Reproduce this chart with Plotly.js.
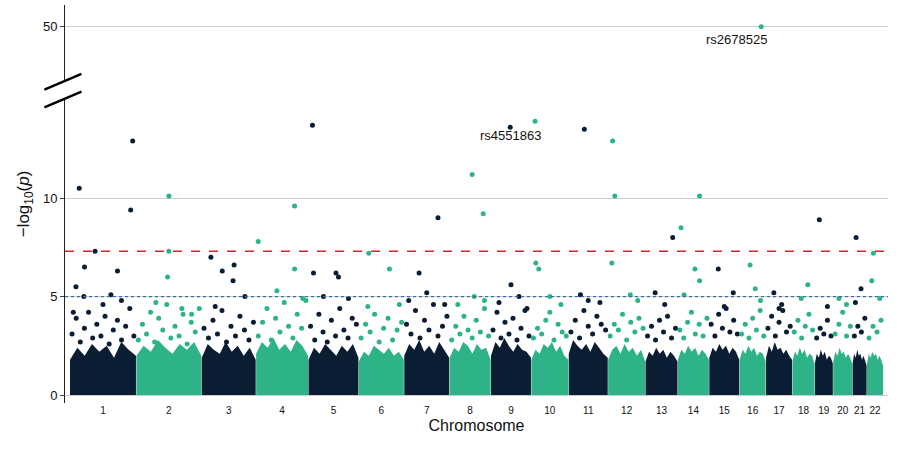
<!DOCTYPE html>
<html><head><meta charset="utf-8">
<script src="https://cdn.plot.ly/plotly-3.0.1.min.js"></script>
<style>body{margin:0}#myDiv{width:900px;height:450px}</style>
</head><body><div id="myDiv"></div>
<script>
// chromosome widths on the plot (relative genomic span)
var chromLen = [66,65,54,52,50,45,45,41,40,37,39,37,32,31,30,26,26,22,18,19,14,16];
var chromNames = ['1','2','3','4','5','6','7','8','9','10','11','12','13','14','15','16','17','18','19','20','21','22'];

// top of the solid lower cloud along each chromosome
var cloudTop = [
  [1.8,2.4,2.0,2.6,2.2,2.5,1.9,2.7,2.3,2.0],[2.0,2.5,2.2,2.8,2.4,2.1,2.6,2.3,2.7,2.0],
  [1.9,2.6,2.3,2.1,2.7,2.2,2.5,2.0,2.4,1.8],[2.1,2.7,2.4,2.9,2.3,2.6,2.2,2.8,2.5,2.0],
  [1.8,2.4,2.1,2.6,2.3,2.0,2.5,2.2,2.6,1.9],[1.7,2.2,2.0,2.5,2.3,2.1,2.4,2.0,2.2,1.8],
  [2.0,2.6,2.3,2.8,2.2,2.5,2.1,2.7,2.3,1.9],[1.9,2.4,2.2,2.7,2.5,2.1,2.6,2.3,2.4,1.8],
  [2.0,2.7,2.4,2.9,2.5,2.2,2.6,2.3,2.2,1.9],[1.8,2.3,2.1,2.6,2.4,2.7,2.2,2.5,2.0,1.8],
  [2.1,2.8,2.5,2.3,2.6,2.2,2.7,2.4,2.1,1.9],[1.8,2.3,2.5,2.1,2.6,2.2,2.4,2.0,2.3,1.7],
  [1.7,2.2,2.0,2.4,2.1,2.3,1.9,2.2,2.0,1.7],[1.8,2.3,2.1,2.5,2.2,2.4,2.0,2.3,2.1,1.8],
  [1.9,2.4,2.2,2.6,2.3,2.5,2.1,2.4,2.2,1.8],[1.8,2.3,2.1,2.5,2.2,2.4,2.0,2.2,2.1,1.7],
  [1.9,2.5,2.2,2.7,2.3,2.4,2.1,2.3,2.0,1.8],[1.7,2.2,2.0,2.4,2.1,2.3,1.9,2.1,2.0,1.6],
  [1.6,2.1,1.9,2.3,2.0,2.2,1.8,2.0,1.9,1.6],[1.7,2.2,2.0,2.4,2.1,2.2,1.9,2.1,1.9,1.6],
  [1.6,2.1,1.9,2.3,2.0,2.1,1.8,2.0,1.8,1.5],[1.6,2.1,1.9,2.2,2.0,2.1,1.8,2.0,1.8,1.5]
];

// scattered mid-range points per chromosome (spread evenly along it)
var midVals = [
  [3.1,3.9,2.7,3.4,4.2,2.9,3.6,3.0,4.0,2.6,3.3,3.8,2.8,3.5,4.4,3.0],
  [2.8,3.6,3.1,4.2,2.7,3.9,3.3,4.6,2.9,3.5,3.0,4.1,2.6,3.7,3.2,4.4],
  [3.4,2.9,3.8,3.1,4.3,2.7,3.5,3.0,4.0,3.3,2.8,3.7],
  [3.0,3.7,4.4,2.8,3.9,3.2,4.7,3.5,2.9,4.1,3.4,4.8],
  [3.5,2.8,4.1,3.2,2.7,3.8,3.0,4.4,3.3,2.9,3.9,3.6],
  [2.9,3.6,3.2,4.1,2.7,3.4,3.9,2.8,3.3,3.7],
  [3.6,3.1,4.3,2.9,3.8,3.3,4.6,3.0,3.5,4.0],
  [2.8,3.5,3.1,4.0,3.3,2.9,3.8,3.2,4.4,3.0],
  [3.3,4.2,2.9,3.7,3.1,3.9,2.8,3.4,4.3,3.0],
  [2.9,3.4,3.1,3.8,4.2,2.8,3.6,3.2,3.0],
  [3.2,3.8,2.9,4.3,3.5,3.1,4.0,3.6,3.3],
  [3.0,3.6,3.3,4.1,2.8,3.7,3.2,3.9,3.4],
  [3.0,3.5,2.8,3.8,3.2,4.0,2.9,3.4],
  [3.3,2.9,3.7,4.2,3.1,3.6,3.0,3.9],
  [3.6,3.0,4.1,3.4,4.4,3.2,3.8,3.1],
  [3.1,3.6,2.9,3.9,3.3,4.3,3.0],
  [3.4,4.0,3.0,3.7,4.3,3.2,3.5],
  [3.2,3.8,2.9,3.5,4.1,3.3],
  [2.9,3.4,3.1,3.8,3.0],
  [3.1,3.6,4.2,3.0,3.5],
  [3.0,3.5,3.2,3.9],
  [2.9,3.5,3.2,3.8]
];

// individual high points: chromosome, relative position, -log10(p)
var snpChr = [1,1,1,1,1,1,1,1,1,1,1,1, 2,2,2,2,2,2, 3,3,3,3,3,3, 4,4,4,4,4, 5,5,5,5,5,5, 6,6,6,6, 7,7,7,7,7, 8,8,8,8,8, 9,9,9,9,9, 10,10,10,10,10, 11,11,11,11, 12,12,12,12,12, 13,13,13, 14,14,14,14,14, 15,15,15, 16,16,16,16, 17,17,17, 18,18, 19,19, 20,20, 21,21,21, 22,22,22];
var snpPos = [0.14,0.38,0.95,0.92,0.22,0.72,0.09,0.21,0.5,0.05,0.62,0.78, 0.5,0.5,0.48,0.3,0.7,0.85, 0.17,0.6,0.38,0.58,0.8,0.25, 0.04,0.74,0.74,0.4,0.9, 0.08,0.1,0.55,0.6,0.3,0.8, 0.22,0.68,0.2,0.9, 0.75,0.33,0.5,0.1,0.9, 0.55,0.82,0.6,0.2,0.85, 0.48,0.5,0.7,0.2,0.9, 0.1,0.12,0.2,0.5,0.8, 0.4,0.5,0.8,0.3, 0.12,0.18,0.1,0.6,0.8, 0.85,0.3,0.6, 0.1,0.7,0.55,0.7,0.2, 0.5,0.3,0.8, 0.83,0.4,0.6,0.8, 0.3,0.6,0.5, 0.4,0.7, 0.25,0.7, 0.3,0.7, 0.25,0.6,0.2, 0.4,0.3,0.8];
var snpP = [10.5,7.3,12.9,9.4,6.5,6.3,5.5,5.0,4.6,4.2,5.1,4.8, 10.1,7.3,6.0,4.7,4.4,4.1, 7.0,6.6,6.3,5.8,5.0,4.5, 7.8,9.6,6.4,5.3,4.9, 13.7,6.2,6.2,6.0,5.0,4.9, 7.2,6.4,4.5,4.6, 9.0,6.2,5.2,4.8,4.6, 11.2,9.2,5.0,4.6,4.8, 13.6,5.6,5.0,4.7,4.4, 13.9,6.7,6.4,5.0,4.6, 13.5,4.8,4.7,5.1, 12.9,10.1,6.7,5.1,4.8, 8.0,5.2,4.6, 8.5,10.1,6.4,5.8,5.1, 4.5,6.4,5.2, 50,6.6,5.4,4.8, 5.2,4.6,4.4, 4.9,5.6, 8.9,4.5, 4.9,4.6, 8.0,5.4,4.7, 7.2,5.8,4.9];

var labelSnp = ['rs2678525','rs4551863'];
var labelChr = [16,9];
var labelPos = [0.83,0.48];
var labelP = [50,13.6];
var labelDx = [-25,0], labelDy = [-13,-8];

var dark = '#0b1d33', teal = '#2eb389';
var yBreakTop = 18.7;   // where the 50 tick sits after the axis break
function yMap(v){ return v > 16 ? yBreakTop + (v-50)*0.05 : v; }

var gap = 0.4, starts = [], acc = 0;
chromLen.forEach(function(l){ starts.push(acc); acc += l + gap; });
var total = acc - gap;
function gx(c,f){ return starts[c-1] + f*chromLen[c-1]; }
function col(c){ return c%2===1 ? dark : teal; }

var data = [];
cloudTop.forEach(function(prof,i){
  var xs=[gx(i+1,0)],ys=[0],n=prof.length;
  prof.forEach(function(h,k){ xs.push(gx(i+1,k/(n-1))); ys.push(h); });
  xs.push(gx(i+1,1)); ys.push(0);
  data.push({x:xs,y:ys,type:'scatter',mode:'lines',fill:'toself',line:{width:0},
    fillcolor:col(i+1),hoverinfo:'skip',showlegend:false});
});
var px=[],py=[],pc=[];
midVals.forEach(function(vals,i){
  vals.forEach(function(v,k){ px.push(gx(i+1,(k+0.5)/vals.length)); py.push(v); pc.push(col(i+1)); });
});
snpChr.forEach(function(c,i){ px.push(gx(c,snpPos[i])); py.push(yMap(snpP[i])); pc.push(col(c)); });
data.push({x:px,y:py,type:'scatter',mode:'markers',marker:{size:5,color:pc},showlegend:false});

var annotations = labelSnp.map(function(t,i){
  return {x:gx(labelChr[i],labelPos[i]),y:yMap(labelP[i]),text:t,showarrow:false,
    xshift:labelDx[i],yshift:labelDy[i],font:{family:'Liberation Sans',size:13,color:'#111'}};
});

var shapes = [
  {type:'line',xref:'paper',x0:0,x1:1,yref:'y',y0:7.3,y1:7.3,line:{color:'#d62728',width:1.5,dash:'dash'}},
  {type:'line',xref:'paper',x0:0,x1:1,yref:'y',y0:5,y1:5,line:{color:'#3b6fa0',width:1.2,dash:'dot'}},
  {type:'line',xref:'paper',x0:0,x1:0,yref:'y',y0:15.0,y1:15.9,line:{color:'white',width:4}},
  {type:'line',xref:'paper',x0:-0.025,x1:0.02,yref:'y',y0:14.6,y1:15.4,line:{color:'black',width:2.5}},
  {type:'line',xref:'paper',x0:-0.025,x1:0.02,yref:'y',y0:15.5,y1:16.3,line:{color:'black',width:2.5}}
];

var layout = {
  width:900,height:450,
  margin:{l:65,r:12,t:5,b:47},
  paper_bgcolor:'white',plot_bgcolor:'white',
  font:{family:'Liberation Sans',color:'#111'},
  xaxis:{range:[-5,total+5],tickvals:chromNames.map(function(n,i){return starts[i]+chromLen[i]/2;}),
    ticktext:chromNames,showgrid:false,zeroline:false,showline:false,ticks:'',
    tickfont:{size:10},title:{text:'Chromosome',font:{size:16},standoff:4}},
  yaxis:{range:[-0.4,19.8],tickvals:[0,5,10,yBreakTop],ticktext:['0','5','10','50'],
    showgrid:true,gridcolor:'#cccccc',zeroline:false,showline:true,linecolor:'#222',
    ticks:'outside',ticklen:4,tickfont:{size:13},
    title:{text:'\u2212log<sub>10</sub>(<i>p</i>)',font:{size:17},standoff:8}},
  shapes:shapes,annotations:annotations
};

Plotly.newPlot('myDiv',data,layout,{displayModeBar:false});
</script></body></html>
